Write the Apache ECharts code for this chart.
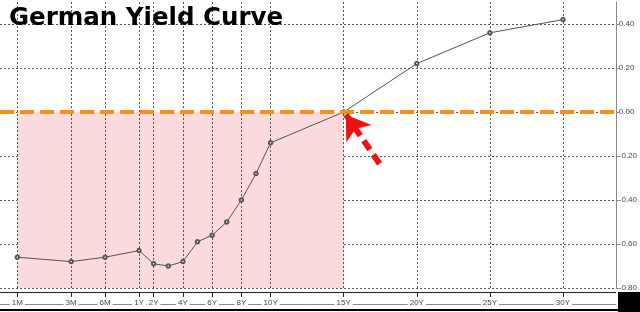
<!DOCTYPE html>
<html><head><meta charset="utf-8">
<script src="https://cdn.jsdelivr.net/npm/echarts@6/dist/echarts.min.js"></script>
<style>html,body{margin:0;padding:0;background:#fff}#c{width:640px;height:312px}</style>
</head><body><div id="c"></div>
<script>
// Data
const titleText = 'German Yield Curve';
const maturityLabels = ['1M','3M','6M','1Y','2Y','3Y','4Y','5Y','6Y','7Y','8Y','9Y','10Y','15Y','20Y','25Y','30Y'];
const maturityYears = [1/12,0.25,0.5,1,2,3,4,5,6,7,8,9,10,15,20,25,30];
const yields = [-0.66,-0.68,-0.66,-0.63,-0.69,-0.70,-0.68,-0.59,-0.56,-0.50,-0.40,-0.28,-0.14,0.00,0.22,0.36,0.42];
const tickLabels = ['1M','3M','6M','1Y','2Y','4Y','6Y','8Y','10Y','15Y','20Y','25Y','30Y'];
const tickYears = [1/12,0.25,0.5,1,2,4,6,8,10,15,20,25,30];
const yTickValues = [-0.8,-0.6,-0.4,-0.2,0,0.2,0.4];
const shadedFromYears = 1/12, shadedToYears = 15, shadedLow = -0.8, shadedHigh = 0;
const arrowTail = [17.45, -0.235], arrowHead = [15.15, -0.012];

// Maturity scale: log below 1Y, linear in years above
function pos(y){ return y >= 1 ? y : 1 + 3.35*Math.log(y); }

const chart = echarts.init(document.getElementById('c'));
const gridColor = '#555';
chart.setOption({
  animation:false,
  backgroundColor:'#fff',
  title:{text:titleText,left:4,top:1,textStyle:{fontFamily:'DejaVu Sans',fontWeight:'bold',fontSize:24.5,color:'#000'}},
  grid:{left:0,right:22,top:2,bottom:24,containLabel:false},
  xAxis:[{
    type:'value',position:'bottom',min:-8.51,max:33.61,offset:4,z:3,
    axisLine:{show:true,onZero:false,lineStyle:{color:'#222',width:1}},
    axisTick:{show:true,length:5,lineStyle:{color:'#222'},customValues:tickYears.map(pos)},
    axisLabel:{customValues:tickYears.map(pos),fontFamily:'Liberation Sans',fontSize:8,color:'#444',margin:7,
      backgroundColor:'#fff',padding:[0,2],
      formatter:function(v){for(let i=0;i<tickYears.length;i++){if(Math.abs(pos(tickYears[i])-v)<1e-6)return tickLabels[i];}return '';}},
    splitLine:{show:true,lineStyle:{color:gridColor,type:[2,2],width:1}}
  },{
    type:'value',position:'bottom',min:-8.51,max:33.61,offset:16,z:1,
    axisLine:{show:true,onZero:false,lineStyle:{color:'#888',width:1}},
    axisTick:{show:false},axisLabel:{show:false},splitLine:{show:false}
  }],
  yAxis:{
    type:'value',position:'right',min:-0.8,max:0.5,interval:0.2,
    axisLine:{show:true,onZero:false,lineStyle:{color:'#888'}},
    axisTick:{show:true,length:3,lineStyle:{color:'#888'},customValues:yTickValues},
    axisLabel:{customValues:yTickValues,fontFamily:'Liberation Sans',fontSize:8,color:'#444',margin:3,
      formatter:function(v){return v.toFixed(2);}},
    splitLine:{show:true,lineStyle:{color:gridColor,type:[2,2],width:1}}
  },
  series:[{
    type:'line',
    data:maturityYears.map((m,i)=>[pos(m),yields[i]]),
    symbol:'emptyCircle',symbolSize:3.5,
    lineStyle:{color:'#555',width:1},itemStyle:{color:'#555',borderWidth:1},
    z:4,
    markArea:{silent:true,itemStyle:{color:'#fadadd'},z:1,
      data:[[{coord:[pos(shadedFromYears),shadedHigh]},{coord:[pos(shadedToYears),shadedLow]}]]},
    markLine:{silent:true,symbol:'none',z:5,label:{show:false},
      lineStyle:{color:'#f5901e',width:4,type:[14,6]},
      data:[{yAxis:0}]}
  },{
    type:'line',data:[],
    markLine:{silent:true,z:6,label:{show:false},symbol:['none','arrow'],symbolSize:23,
      itemStyle:{color:'#ee1111'},
      lineStyle:{color:'#ee1111',width:6,type:[11,6]},
      data:[[{coord:arrowTail},{coord:arrowHead}]]}
  }],
  graphic:[
    {type:'rect',shape:{x:0,y:309,width:640,height:2},style:{fill:'#000'},z:10},
    {type:'rect',shape:{x:618,y:292,width:22,height:20},style:{fill:'#000'},z:10}
  ]
});
</script></body></html>
